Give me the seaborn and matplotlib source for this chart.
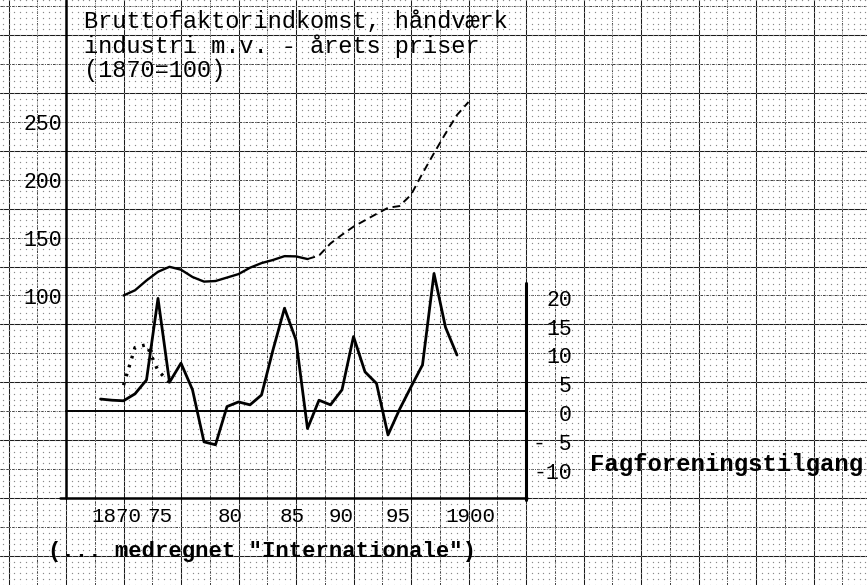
import numpy as np
import pandas as pd
import matplotlib
matplotlib.use("Agg")
import matplotlib.pyplot as plt
import matplotlib.transforms as mtransforms
import seaborn as sns

# ---------------- data ----------------
index_years = list(range(1870, 1901))
index_values = [100, 104.5, 113, 120.5, 124.8, 122.3, 116, 112, 112.5, 115.5,
                118.5, 124, 128, 130.7, 134, 133.8, 131.5, 134.5, 145, 152.5,
                159.5, 165, 170.5, 175.8, 177.3, 187, 205.5, 223, 240, 256, 267.2]
solid_until = 1886

union_years = list(range(1868, 1900))
union_values = [2.1, 1.9, 1.8, 3.0, 5.4, 19.5, 5.0, 8.3, 3.7, -5.3, -5.8, 0.8,
                1.6, 1.1, 2.8, 10.6, 17.8, 12.3, -3.0, 1.9, 1.1, 3.7, 12.9, 6.8,
                4.8, -4.1, 0.3, 4.2, 8.0, 23.8, 14.5, 9.7]

intl_years = [1870, 1871, 1872, 1873, 1874]
intl_values = [4.5, 11.0, 11.5, 7.0, 5.0]

left_ticks = [250, 200, 150, 100]
right_ticks = [20, 15, 10, 5, 0, -5, -10]
right_tick_labels = ["20", "15", "10", "5", "0", "- 5", "-10"]
year_ticks = [1870, 1875, 1880, 1885, 1890, 1895, 1900]
year_tick_labels = ["1870", "75", "80", "85", "90", "95", "1900"]

title_lines = ["Bruttofaktorindkomst, håndværk",
               "industri m.v. - årets priser",
               "(1870=100)"]
right_title = "Fagforeningstilgang"
note = '(... medregnet "Internationale")'

# ---------------- layout (pixel geometry of the graph paper) ----------------
W, H = 867, 585
X1870, PX_PER_YEAR = 123.5, 11.5
Y100, PX_PER_IDX = 295.5, 1.1572
Y0, PX_PER_U = 411.2, 5.786
# typed year labels sit a little off the exact year positions
year_label_px = [116, 160, 230, 292, 341, 398, 470]

sns.set_theme(style="white")
plt.rcParams["font.family"] = ["Liberation Mono", "DejaVu Sans Mono"]

fig = plt.figure(figsize=(W / 100, H / 100), dpi=100)
fig.patch.set_facecolor("white")

# graph paper layer (pixel coordinates)
gax = fig.add_axes([0, 0, 1, 1], zorder=0)
gax.set_xlim(0, W)
gax.set_ylim(H, 0)
gax.axis("off")

xs_step, ys_step = 28.75, 28.93
x_start = 66 - 4 * xs_step
y_start = 498 - 18 * ys_step
xlines, ylines = [], []
k, x = 0, x_start
while x < W + 1:
    xlines.append((x, k % 2 == 0))
    x += xs_step
    k += 1
k, y = 0, y_start
while y < H + 1:
    ylines.append((y, k % 2 == 0))
    y += ys_step
    k += 1
for xv, solid in xlines:
    gax.axvline(xv, color="#1a1a1a", lw=0.75 if solid else 0.6,
                ls="-" if solid else (0, (3, 1.5, 1, 1.5)), zorder=1)
for yv, solid in ylines:
    gax.axhline(yv, color="#1a1a1a", lw=0.75 if solid else 0.6,
                ls="-" if solid else (0, (3, 1.5, 1, 1.5)), zorder=1)
# dot grid
dx = np.arange(x_start, W + 1, xs_step / 5)
dy = np.arange(y_start, H + 1, ys_step / 5)
DX, DY = np.meshgrid(dx, dy)
gax.scatter(DX.ravel(), DY.ravel(), s=0.9, color="#8a8a8a", marker="o",
            linewidths=0, zorder=1)

# heavy drawn frame lines
gax.plot([66, 66], [0, 498], color="black", lw=1.8, zorder=2)
gax.plot([60, 527], [498, 498], color="black", lw=1.8, zorder=2)
gax.plot([526, 526], [283, 500], color="black", lw=2.2, zorder=2)
gax.plot([66, 526], [Y0, Y0], color="black", lw=1.4, zorder=2)

# ---------------- data axes ----------------
ax = fig.add_axes([0, 0, 1, 1], zorder=3)
ax.patch.set_alpha(0)
ax.set_xlim(1870 - X1870 / PX_PER_YEAR, 1870 + (W - X1870) / PX_PER_YEAR)
ax.set_ylim(100 - (H - Y100) / PX_PER_IDX, 100 + Y100 / PX_PER_IDX)
ax.axis("off")

ax2 = ax.twinx()
ax2.set_zorder(4)
ax2.patch.set_alpha(0)
ax2.set_ylim(-(H - Y0) / PX_PER_U, Y0 / PX_PER_U)
ax2.axis("off")

idx_df = pd.DataFrame({"year": index_years, "value": index_values})
sns.lineplot(data=idx_df[idx_df.year <= solid_until], x="year", y="value",
             ax=ax, color="black", lw=1.7)
sns.lineplot(data=idx_df[idx_df.year >= solid_until], x="year", y="value",
             ax=ax, color="black", lw=1.4, linestyle=(0, (4, 2.5)))

uni_df = pd.DataFrame({"year": union_years, "value": union_values})
sns.lineplot(data=uni_df, x="year", y="value", ax=ax2, color="black", lw=2.0)

intl_df = pd.DataFrame({"year": intl_years, "value": intl_values})
sns.lineplot(data=intl_df, x="year", y="value", ax=ax2, color="black",
             lw=2.4, linestyle=(0, (0.8, 2.0)))

for a in (ax, ax2):
    a.set_xlabel("")
    a.set_ylabel("")
    leg = a.get_legend()
    if leg:
        leg.remove()

# ---------------- text ----------------
for i, line in enumerate(title_lines):
    gax.text(84, 22 + i * 24, line, fontsize=17, va="center", ha="left",
             color="black", zorder=5)

tl = mtransforms.blended_transform_factory(gax.transData, ax.transData)
for v in left_ticks:
    ax.text(62, v - 2.5, str(v), transform=tl, fontsize=15.5, ha="right",
            va="center", color="black")

tr = mtransforms.blended_transform_factory(gax.transData, ax2.transData)
for v, lab in zip(right_ticks, right_tick_labels):
    ax2.text(572, v - 0.8, lab, transform=tr, fontsize=15.5, ha="right",
             va="center", color="black")

for px, lab in zip(year_label_px, year_tick_labels):
    gax.text(px, 517, lab, fontsize=15, ha="center", va="center",
             color="black", zorder=5)

gax.text(590, 465, right_title, fontsize=17.2, fontweight="bold",
         ha="left", va="center", color="black", zorder=5)
gax.text(48, 552, note, fontsize=16, fontweight="bold", ha="left",
         va="center", color="black", zorder=5)

fig.savefig("out.png", dpi=100, facecolor="white")
